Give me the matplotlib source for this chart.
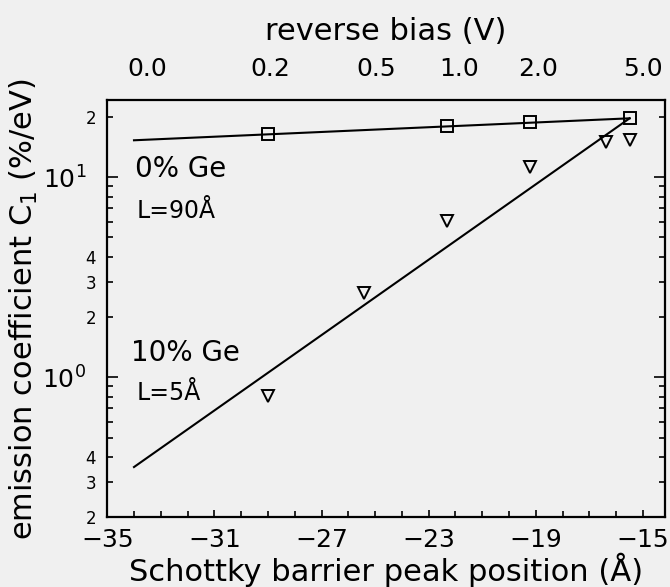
import numpy as np
import matplotlib.pyplot as plt
from matplotlib.ticker import MultipleLocator

plt.rcParams['font.family'] = 'DejaVu Sans'

# peak position (Angstrom) of each measured bias point
x_0ge = [-29.0, -22.3, -19.2, -15.5]
c_0ge = [16.4, 18.0, 18.8, 19.7]

x_10ge = [-29.0, -25.4, -22.3, -19.2, -16.4, -15.5]
c_10ge = [0.81, 2.63, 6.03, 11.2, 15.0, 15.3]

# straight-line fits (log scale)
fit_x = [-34.0, -15.5]
fit_0ge = [15.3, 19.7]
fit_10ge = [0.356, 19.7]

# reverse bias scale along the top
bias_pos = [-33.5, -28.9, -24.95, -21.85, -18.9, -15.0]
bias_labels = ['0.0', '0.2', '0.5', '1.0', '2.0', '5.0']

bg = '#f0f0f0'
fig = plt.figure(figsize=(6.7, 5.87), dpi=100, facecolor=bg)
ax = fig.add_axes([0.160, 0.119, 0.8325, 0.7105], facecolor=bg)

ax.plot(fit_x, fit_0ge, 'k-', lw=1.5)
ax.plot(fit_x, fit_10ge, 'k-', lw=1.5)
ax.plot(x_0ge, c_0ge, 's', ms=8, mfc='none', mec='k', mew=1.4)
ax.plot(x_10ge, c_10ge, 'v', ms=8, mfc='none', mec='k', mew=1.4)

ax.set_yscale('log')
ax.set_xlim(-35, -14.18)
ax.set_ylim(0.2, 24.3)

# x ticks: labels every 4, small ticks every 1
ax.set_xticks(np.arange(-35, -14, 4))
ax.set_xticklabels(['\u2212%d' % abs(v) for v in range(-35, -14, 4)])
ax.xaxis.set_minor_locator(MultipleLocator(1))

# y ticks: decades big, 2-3-4 small
ax.set_yticks([1, 10], ['$10^0$', '$10^1$'])
minor_pos = [0.2, 0.3, 0.4, 0.5, 0.6, 0.7, 0.8, 0.9,
             2, 3, 4, 5, 6, 7, 8, 9, 20]
minor_lab = ['2', '3', '4', '', '', '', '', '',
             '2', '3', '4', '', '', '', '', '', '2']
ax.set_yticks(minor_pos, minor_lab, minor=True)

ax.tick_params(which='both', direction='in', top=True, right=True, width=1.2)
ax.tick_params(axis='x', which='major', length=5, labelsize=18, pad=8)
ax.tick_params(axis='x', which='minor', length=4)
ax.tick_params(axis='y', which='major', length=8, labelsize=18, pad=15)
ax.tick_params(axis='y', which='minor', length=4, labelsize=12, pad=8)
for s in ax.spines.values():
    s.set_linewidth(1.6)

ax.set_xlabel('Schottky barrier peak position (\u00c5)', fontsize=22, labelpad=0)
ax.set_ylabel('emission coefficient C$_1$ (%/eV)', fontsize=22, labelpad=2)

top = ax.twiny()
top.set_xlim(ax.get_xlim())
top.set_xticks(bias_pos, bias_labels)
top.tick_params(length=0, labelsize=18, pad=14)
top.set_xlabel('reverse bias (V)', fontsize=22, labelpad=12)
for s in top.spines.values():
    s.set_visible(False)

ax.text(-33.95, 11.0, '0% Ge', fontsize=20, va='center')
ax.text(-33.9, 6.76, 'L=90\u00c5', fontsize=17, va='center')
ax.text(-34.1, 1.33, '10% Ge', fontsize=20, va='center')
ax.text(-33.9, 0.83, 'L=5\u00c5', fontsize=17, va='center')

fig.savefig('out.png', dpi=100, facecolor=bg)
